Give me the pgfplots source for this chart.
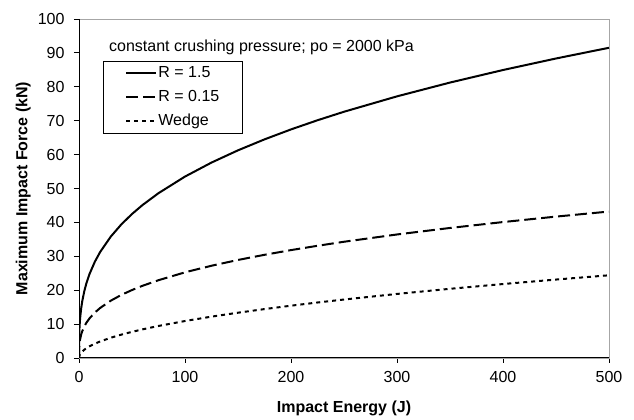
\documentclass[border=0pt]{standalone}
\usepackage{fontspec}
\setmainfont{Liberation Sans}
\usepackage{pgfplots}
\pgfplotsset{compat=1.18}
\begin{document}
\begin{tikzpicture}
\useasboundingbox (0,0) rectangle (634bp,420bp);
\begin{axis}[
  at={(79bp,62bp)}, anchor=south west,
  scale only axis, width=530bp, height=339bp,
  xmin=0, xmax=500, ymin=0, ymax=100,
  xtick={0,100,...,500}, ytick={0,10,...,100},
  tick align=outside, tick pos=left,
  major tick length=5bp,
  every tick/.style={black, line width=0.8bp},
  axis line style={draw=gray!70, line width=0.8bp},
  font=\fontsize{16bp}{19bp}\selectfont,
  /pgf/number format/assume math mode=true,
  yticklabel style={xshift=-6bp},
  xticklabel style={yshift=-5bp},
  xlabel={\textbf{Impact Energy (J)}},
  ylabel={\textbf{Maximum Impact Force (kN)}},
  xlabel style={at={(axis description cs:0.5,-0.1475)}, anchor=center},
  ylabel style={at={(axis description cs:-0.105,0.5)}, anchor=center},
  legend cell align=left,
  legend style={at={(rel axis cs:0.0453,0.876)}, anchor=north west,
    draw=black, line width=0.8bp, fill=white,
    inner xsep=22bp, inner ysep=3bp, row sep=6bp,
    nodes={inner sep=1bp, text height=12bp, text depth=4bp},
    font=\fontsize{16bp}{19bp}\selectfont},
  legend image code/.code={\draw[#1] (0bp,0bp) -- (30bp,0bp);},
]
\addplot[black, line width=2bp, solid] coordinates {
(0,0) (0.1,5.35) (0.2,6.74) (0.5,9.15) (1,11.53) (2,14.53) (3,16.63) (5,19.72) (7,22.06) (10,24.84) (15,28.43) (20,31.29) (30,35.82) (40,39.43) (50,42.48) (60,45.14) (75,48.62) (100,53.52) (125,57.65) (150,61.26) (175,64.49) (200,67.43) (225,70.13) (250,72.64) (300,77.18) (350,81.25) (400,84.95) (450,88.35) (500,91.51)};
\addlegendentry{R = 1.5}
\addplot[black, line width=2bp, dash pattern=on 12bp off 5bp] coordinates {
(0,0) (0.1,2.53) (0.2,3.18) (0.5,4.32) (1,5.44) (2,6.86) (3,7.85) (5,9.31) (7,10.41) (10,11.72) (15,13.42) (20,14.77) (30,16.91) (40,18.62) (50,20.05) (60,21.31) (75,22.95) (100,25.27) (125,27.22) (150,28.92) (175,30.44) (200,31.83) (225,33.10) (250,34.29) (300,36.44) (350,38.36) (400,40.10) (450,41.71) (500,43.20)};
\addlegendentry{R = 0.15}
\addplot[black, line width=2bp, dash pattern=on 4bp off 4bp] coordinates {
(0,0) (0.1,0.35) (0.2,0.49) (0.5,0.77) (1,1.09) (2,1.54) (3,1.89) (5,2.44) (7,2.89) (10,3.45) (15,4.23) (20,4.88) (30,5.98) (40,6.90) (50,7.71) (60,8.45) (75,9.45) (100,10.91) (125,12.20) (150,13.36) (175,14.43) (200,15.43) (225,16.37) (250,17.25) (300,18.90) (350,20.41) (400,21.82) (450,23.14) (500,24.40)};
\addlegendentry{Wedge}
\draw[black, line width=1.2bp] (rel axis cs:0,1) -- (rel axis cs:0,0) -- (rel axis cs:1,0);
\node[anchor=west, inner sep=0pt, font=\fontsize{16bp}{19bp}\selectfont] at (rel axis cs:0.0566,0.917) {constant crushing pressure; po = 2000 kPa};
\end{axis}
\end{tikzpicture}
\end{document}
